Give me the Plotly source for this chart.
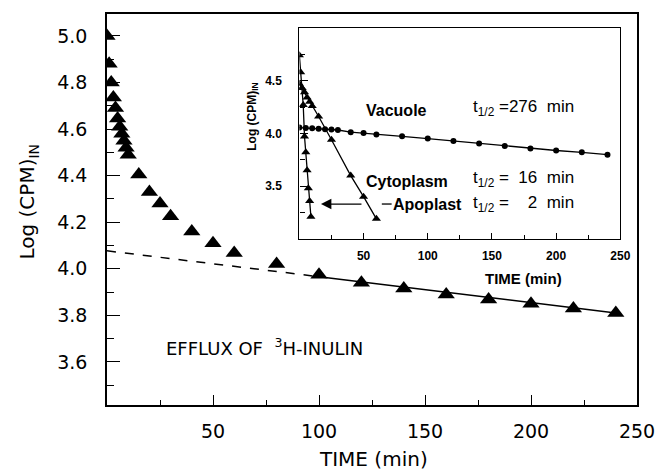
import plotly.graph_objects as go

# ---------------- data ----------------
# Main panel: total efflux of 3H-inulin
main_time = [0, 1, 2, 3, 4, 5, 6, 7, 8, 9, 10, 15, 20, 25, 30, 40, 50, 60, 80,
             100, 120, 140, 160, 180, 200, 220, 240]
main_log = [5.00, 4.88, 4.80, 4.735, 4.69, 4.645, 4.61, 4.58, 4.55, 4.52, 4.49,
            4.405, 4.33, 4.28, 4.226, 4.16, 4.11, 4.068, 4.02,
            3.974, 3.94, 3.915, 3.889, 3.868, 3.85, 3.829, 3.81]
# slow-phase regression line (extrapolated part dashed)
fit_dash_time = [0, 100]
fit_dash_log = [4.077, 3.966]
fit_solid_time = [100, 240]
fit_solid_log = [3.966, 3.81]

# Inset: compartment analysis
vac_time = [0, 5, 10, 15, 20, 25, 30, 40, 50, 60, 80, 100, 120, 140, 160, 180, 200, 220, 240]
vac_log = [4.055, 4.05, 4.048, 4.045, 4.04, 4.036, 4.032, 4.012, 4.003, 3.99,
           3.972, 3.951, 3.929, 3.905, 3.881, 3.856, 3.838, 3.82, 3.798]
cyt_time = [0, 2, 4, 6, 8, 10, 15, 25, 40, 50, 60]
cyt_log = [4.47, 4.43, 4.39, 4.34, 4.30, 4.26, 4.16, 3.94, 3.60, 3.40, 3.19]
apo_time = [0, 1, 2, 3, 4, 5, 6, 7, 8, 9]
apo_log = [4.74, 4.58, 4.43, 4.27, 3.97, 3.82, 3.65, 3.48, 3.36, 3.21]

main_xticks = [50, 100, 150, 200, 250]
main_yticks = [3.6, 3.8, 4.0, 4.2, 4.4, 4.6, 4.8, 5.0]
inset_xticks = [50, 100, 150, 200, 250]
inset_yticks = [3.5, 4.0, 4.5]

# ---------------- figure ----------------
W, H = 667, 470
L, R, T, B = 107, 20, 12, 65
pw, ph = W - L - R, H - T - B

def px(xp):
    return (xp - L) / pw

def py(yp):
    return (H - B - yp) / ph

fig = go.Figure()

fig.add_trace(go.Scatter(x=fit_dash_time, y=fit_dash_log, mode="lines",
                         line=dict(color="black", width=1.5, dash="dash"),
                         xaxis="x", yaxis="y", showlegend=False))
fig.add_trace(go.Scatter(x=fit_solid_time, y=fit_solid_log, mode="lines",
                         line=dict(color="black", width=1.5),
                         xaxis="x", yaxis="y", showlegend=False))
fig.add_trace(go.Scatter(x=main_time, y=main_log, mode="markers",
                         marker=dict(symbol="triangle-up", size=15, color="black"),
                         xaxis="x", yaxis="y", showlegend=False))

fig.add_trace(go.Scatter(x=vac_time, y=vac_log, mode="lines+markers",
                         line=dict(color="black", width=1.3),
                         marker=dict(symbol="circle", size=6, color="black"),
                         xaxis="x2", yaxis="y2", showlegend=False))
fig.add_trace(go.Scatter(x=cyt_time, y=cyt_log, mode="lines+markers",
                         line=dict(color="black", width=1.3),
                         marker=dict(symbol="triangle-up", size=8, color="black"),
                         xaxis="x2", yaxis="y2", showlegend=False))
fig.add_trace(go.Scatter(x=apo_time, y=apo_log, mode="lines+markers",
                         line=dict(color="black", width=1.3),
                         marker=dict(symbol="triangle-up", size=8, color="black"),
                         xaxis="x2", yaxis="y2", showlegend=False))

main_font = dict(family="DejaVu Sans", size=19, color="black")
inset_font = dict(family="Liberation Sans", size=12, color="black", weight="bold")

fig.update_layout(
    width=W, height=H,
    margin=dict(l=L, r=R, t=T, b=B),
    paper_bgcolor="white", plot_bgcolor="white",
    xaxis=dict(range=[0, 250], domain=[0, 1], tickvals=main_xticks,
               ticks="inside", ticklen=10, tickwidth=1.3, tickcolor="black",
               minor=dict(tickvals=[25, 75, 125, 175, 225], ticks="inside", ticklen=5,
                          tickwidth=1.3, tickcolor="black"),
               showline=True, linecolor="black", linewidth=1.5, mirror=True,
               showgrid=False, zeroline=False, tickfont=main_font, ticklabelstandoff=8),
    yaxis=dict(range=[3.415, 5.094], domain=[0, 1], tickvals=main_yticks,
               tickformat=".1f",
               ticks="inside", ticklen=13, tickwidth=1.3, tickcolor="black",
               minor=dict(tickvals=[3.5, 3.7, 3.9, 4.1, 4.3, 4.5, 4.7, 4.9], ticks="inside",
                          ticklen=7, tickwidth=1.3, tickcolor="black"),
               showline=True, linecolor="black", linewidth=1.5, mirror=True,
               showgrid=False, zeroline=False, tickfont=main_font, ticklabelstandoff=14),
    xaxis2=dict(range=[0, 250], domain=[px(303), px(630)], anchor="y2",
                tickvals=inset_xticks, ticks="inside", ticklen=6, tickwidth=1.2,
                tickcolor="black",
                minor=dict(tickvals=[25, 75, 125, 175, 225], ticks="inside", ticklen=4,
                           tickwidth=1.2, tickcolor="black"),
                showline=True, linecolor="black", linewidth=1.3, mirror=True,
                showgrid=False, zeroline=False, tickfont=inset_font, ticklabelstandoff=6),
    yaxis2=dict(range=[3.0, 5.0], domain=[py(238), py(26)], anchor="x2",
                tickvals=inset_yticks, tickformat=".1f", ticks="inside", ticklen=8,
                tickwidth=1.2, tickcolor="black",
                minor=dict(tickvals=[3.25, 3.75, 4.25, 4.75], ticks="inside", ticklen=5,
                           tickwidth=1.2, tickcolor="black"),
                showline=True, linecolor="black", linewidth=1.3, mirror=True,
                showgrid=False, zeroline=False, tickfont=inset_font, ticklabelstandoff=14),
)

ann = []

def add_text(text, xp, yp, font, angle=0, xanchor="center"):
    ann.append(dict(text=text, xref="paper", yref="paper", x=px(xp), y=py(yp),
                    textangle=angle, showarrow=False, xanchor=xanchor,
                    yanchor="middle", font=font))

big = dict(family="DejaVu Sans", size=20, color="black")
# main axis titles
add_text("Log (CPM)<sub>IN</sub>", 27, 200, big, angle=-90)
add_text("TIME (min)", 379, 459, big)
add_text("EFFLUX OF \u00a0<sup>3</sup>H-INULIN", 267, 347,
         dict(family="DejaVu Sans", size=18, color="black"))
# inset axis titles
add_text("<b>Log (CPM)<sub>IN</sub></b>", 256, 115,
         dict(family="Liberation Sans", size=12, color="black"), angle=-90)
add_text("<b>TIME (min)</b>", 531, 278,
         dict(family="Liberation Sans", size=15, color="black"))
# inset labels
lab_font = dict(family="Liberation Sans", size=16, color="black")
add_text("<b>Vacuole</b>", 402, 109, lab_font)
add_text("<b>Cytoplasm</b>", 413, 180, lab_font)
add_text("<b>Apoplast</b>", 434, 203, lab_font)
tfont = dict(family="Liberation Sans", size=17, color="black")
for txt, yy in [("t<sub>1/2</sub> =276\u00a0 min", 106),
                ("t<sub>1/2</sub> = \u00a016\u00a0 min", 178),
                ("t<sub>1/2</sub> = \u00a0\u00a0 2\u00a0 min", 203)]:
    add_text(txt, 478, yy, tfont, xanchor="left")
# arrow pointing to apoplast curve
ann.append(dict(text="", xref="paper", yref="paper", x=px(325), y=py(203),
                axref="pixel", ayref="pixel", ax=42, ay=0, showarrow=True,
                arrowhead=2, arrowsize=1.6, arrowwidth=1.3, arrowcolor="black"))
fig.update_layout(annotations=ann)

fig.add_shape(type="line", xref="paper", yref="paper",
              x0=px(387), x1=px(397), y0=py(203), y1=py(203),
              line=dict(color="black", width=1.3))

fig.write_html("out.html", config={"displayModeBar": False},
               post_script="document.body.style.margin='0';")
